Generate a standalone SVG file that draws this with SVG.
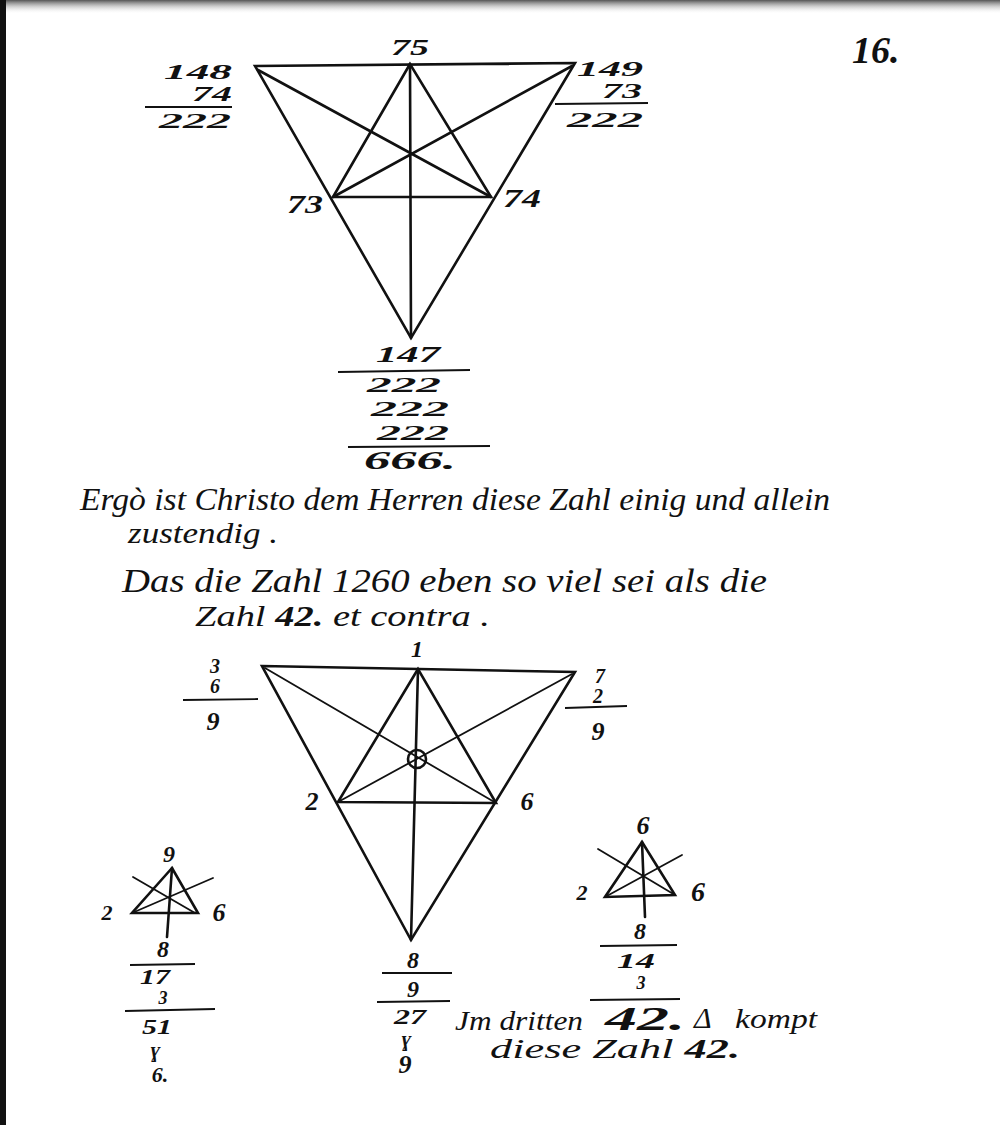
<svg xmlns="http://www.w3.org/2000/svg" width="1000" height="1125" viewBox="0 0 1000 1125">
<defs>
<linearGradient id="topshade" x1="0" y1="0" x2="0" y2="1">
<stop offset="0" stop-color="#555"/>
<stop offset="1" stop-color="#fff" stop-opacity="0"/>
</linearGradient>
<style>
.ln{stroke:#111;stroke-width:2.6;fill:none;stroke-linecap:round}
.thin{stroke:#111;stroke-width:1.8;fill:none;stroke-linecap:round}
.rule{stroke:#111;stroke-width:1.8;fill:none}
.num{font-family:"Liberation Serif",serif;font-style:italic;font-weight:bold;fill:#111;text-anchor:middle}
.hand{font-family:"Liberation Serif",serif;font-style:italic;fill:#111}
</style>
</defs>
<rect width="1000" height="1125" fill="#fff"/>
<rect x="0" y="0" width="1000" height="14" fill="url(#topshade)"/>
<rect x="0" y="0" width="6" height="1125" fill="#111"/>
<text class="hand" x="852" y="63" font-size="38" font-weight="bold">16.</text>

<g id="connectors">
<polygon class="ln" points="255,66 575,63 411,338"/>
<polygon class="ln" points="410,64 333,197 491,197"/>
<line class="ln" x1="410" y1="64" x2="411" y2="338"/>
<line class="ln" x1="258" y1="70" x2="491" y2="197"/>
<line class="ln" x1="572" y1="66" x2="333" y2="197"/>
<polygon class="ln" points="262,666 575,672 411,940"/>
<polygon class="ln" points="418,669 338,802 496,803"/>
<line class="ln" x1="418" y1="669" x2="411" y2="940"/>
<line class="thin" x1="265" y1="668" x2="496" y2="803"/>
<line class="thin" x1="572" y1="674" x2="338" y2="802"/>
<circle class="ln" cx="417" cy="759" r="9"/>
<polygon class="ln" points="172,868 132,913 198,913"/>
<line class="ln" x1="172" y1="868" x2="167" y2="937"/>
<line class="thin" x1="133" y1="877" x2="195" y2="913"/>
<line class="thin" x1="213" y1="878" x2="132" y2="913"/>
<polygon class="ln" points="642,842 605,897 675,895"/>
<line class="ln" x1="642" y1="842" x2="645" y2="917"/>
<line class="thin" x1="598" y1="849" x2="675" y2="895"/>
<line class="thin" x1="682" y1="855" x2="605" y2="897"/>
<line class="rule" x1="145" y1="107" x2="232" y2="107"/>
<line class="rule" x1="555" y1="104" x2="648" y2="103"/>
<line class="rule" x1="338" y1="372" x2="470" y2="370"/>
<line class="rule" x1="348" y1="447" x2="490" y2="446"/>
<line class="rule" x1="183" y1="700" x2="258" y2="699"/>
<line class="rule" x1="565" y1="708" x2="627" y2="706"/>
<line class="rule" x1="382" y1="973" x2="452" y2="973"/>
<line class="rule" x1="377" y1="1002" x2="450" y2="1001"/>
<line class="rule" x1="130" y1="965" x2="195" y2="964"/>
<line class="rule" x1="125" y1="1011" x2="215" y2="1009"/>
<line class="rule" x1="600" y1="946" x2="677" y2="945"/>
<line class="rule" x1="590" y1="1000" x2="680" y2="999"/>
</g>

<g id="top-triangle-labels">
<text class="num" x="410" y="55" font-size="24" textLength="38" lengthAdjust="spacingAndGlyphs">75</text>
<text class="num" x="198" y="79" font-size="22" textLength="68" lengthAdjust="spacingAndGlyphs">148</text>
<text class="num" x="212" y="101" font-size="22" textLength="40" lengthAdjust="spacingAndGlyphs">74</text>
<text class="num" x="195" y="128" font-size="22" textLength="72" lengthAdjust="spacingAndGlyphs">222</text>
<text class="num" x="610" y="76" font-size="22" textLength="66" lengthAdjust="spacingAndGlyphs">149</text>
<text class="num" x="622" y="98" font-size="22" textLength="40" lengthAdjust="spacingAndGlyphs">73</text>
<text class="num" x="605" y="127" font-size="22" textLength="76" lengthAdjust="spacingAndGlyphs">222</text>
<text class="num" x="305" y="213" font-size="26" textLength="36" lengthAdjust="spacingAndGlyphs">73</text>
<text class="num" x="522" y="207" font-size="26" textLength="38" lengthAdjust="spacingAndGlyphs">74</text>
</g>

<g id="sum-666">
<text class="num" x="408" y="362" font-size="24" textLength="64" lengthAdjust="spacingAndGlyphs">147</text>
<text class="num" x="404" y="392" font-size="22" textLength="74" lengthAdjust="spacingAndGlyphs">222</text>
<text class="num" x="410" y="416" font-size="22" textLength="78" lengthAdjust="spacingAndGlyphs">222</text>
<text class="num" x="413" y="440" font-size="22" textLength="72" lengthAdjust="spacingAndGlyphs">222</text>
<text class="num" x="410" y="469" font-size="26" textLength="92" lengthAdjust="spacingAndGlyphs">666.</text>
</g>

<g id="text-ergo">
<text class="hand" x="80" y="510" font-size="32" textLength="750" lengthAdjust="spacingAndGlyphs">Ergò ist Christo dem Herren diese Zahl einig und allein</text>
<text class="hand" x="128" y="543" font-size="30" textLength="150" lengthAdjust="spacingAndGlyphs">zustendig .</text>
</g>

<g id="text-1260">
<text class="hand" x="122" y="592" font-size="33" textLength="645" lengthAdjust="spacingAndGlyphs">Das die Zahl 1260 eben so viel sei als die</text>
<text class="hand" x="195" y="626" font-size="30" textLength="295" lengthAdjust="spacingAndGlyphs">Zahl <tspan font-weight="bold">42.</tspan> et contra .</text>
</g>

<g id="lower-triangle-labels">
<text class="num" x="417" y="657" font-size="24">1</text>
<text class="num" x="215" y="673" font-size="20">3</text>
<text class="num" x="215" y="693" font-size="20">6</text>
<text class="num" x="213" y="730" font-size="26">9</text>
<text class="num" x="600" y="683" font-size="20">7</text>
<text class="num" x="598" y="703" font-size="20">2</text>
<text class="num" x="598" y="740" font-size="26">9</text>
<text class="num" x="312" y="810" font-size="26">2</text>
<text class="num" x="527" y="810" font-size="26">6</text>
</g>

<g id="sum-lower">
<text class="num" x="413" y="968" font-size="24">8</text>
<text class="num" x="413" y="997" font-size="24">9</text>
<text class="num" x="410" y="1024" font-size="20" textLength="32" lengthAdjust="spacingAndGlyphs">27</text>
<text class="num" x="406" y="1046" font-size="20">ɣ</text>
<text class="num" x="405" y="1073" font-size="26">9</text>
</g>

<g id="small-left">
<text class="num" x="169" y="862" font-size="24">9</text>
<text class="num" x="107" y="920" font-size="22">2</text>
<text class="num" x="219" y="921" font-size="26">6</text>
<text class="num" x="163" y="957" font-size="24">8</text>
<text class="num" x="155" y="984" font-size="20" textLength="30" lengthAdjust="spacingAndGlyphs">17</text>
<text class="num" x="163" y="1004" font-size="18">3</text>
<text class="num" x="157" y="1034" font-size="20" textLength="30" lengthAdjust="spacingAndGlyphs">51</text>
<text class="num" x="155" y="1057" font-size="20">ɣ</text>
<text class="num" x="160" y="1082" font-size="22">6.</text>
</g>

<g id="small-right">
<text class="num" x="643" y="834" font-size="26">6</text>
<text class="num" x="582" y="900" font-size="22">2</text>
<text class="num" x="698" y="901" font-size="28">6</text>
<text class="num" x="640" y="939" font-size="24">8</text>
<text class="num" x="636" y="968" font-size="22" textLength="38" lengthAdjust="spacingAndGlyphs">14</text>
<text class="num" x="641" y="989" font-size="18">3</text>
</g>

<g id="text-dritten">
<text class="hand" x="455" y="1030" font-size="28" textLength="128" lengthAdjust="spacingAndGlyphs">Jm dritten</text>
<text class="num" x="645" y="1030" font-size="34" textLength="80" lengthAdjust="spacingAndGlyphs">42.</text>
<text class="hand" x="694" y="1028" font-size="30">Δ</text>
<text class="hand" x="735" y="1028" font-size="28" textLength="82" lengthAdjust="spacingAndGlyphs">kompt</text>
<text class="hand" x="490" y="1058" font-size="28" textLength="250" lengthAdjust="spacingAndGlyphs">diese Zahl <tspan font-weight="bold">42.</tspan></text>
</g>
</svg>
